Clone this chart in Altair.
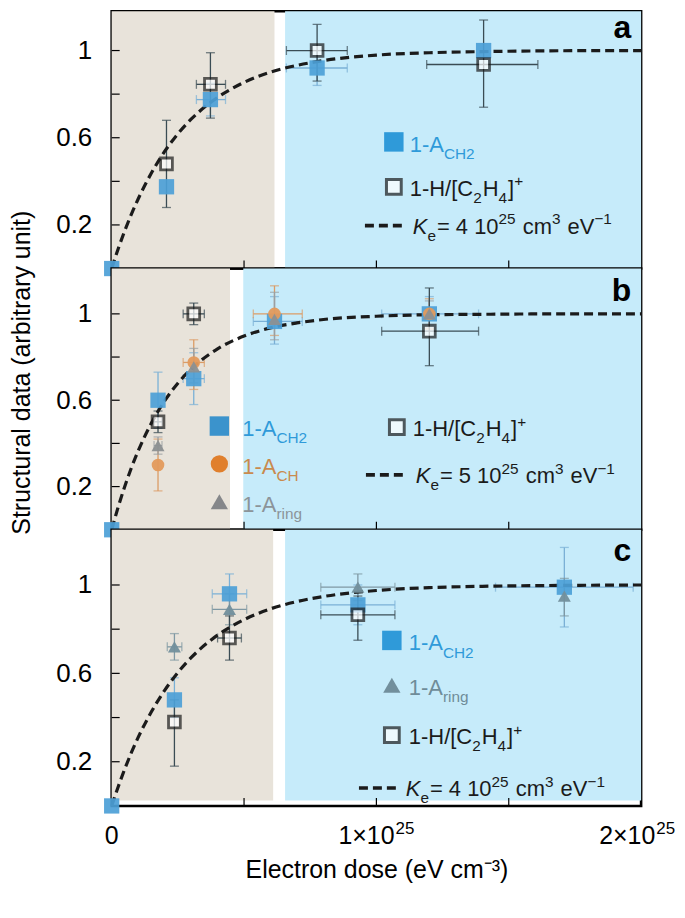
import altair as alt
import pandas as pd
import numpy as np

FONT = "Liberation Sans"

# ---------------- data (x in units of 1e25 eV cm^-3) ----------------
X_TICKS = [0.5, 1.0, 1.5]
Y_TICKS = [0.2, 0.4, 0.6, 0.8, 1.0]
Y_LABELS = [0.2, 0.6, 1.0]
X_LABEL_VALUES = [0, 1, 2]
X_LABEL_BASE = ["0", "1×10", "2×10"]
X_LABEL_EXP = ["", "25", "25"]
X_TITLE = "Electron dose (eV cm⁻³)"
Y_TITLE = "Structural data (arbitrary unit)"

# shaded dose regions [start, end]
A_BEIGE = [0.0, 0.615]; A_BLUE = [0.655, 2.0]
B_BEIGE = [0.0, 0.447]; B_BLUE = [0.497, 2.0]
C_BEIGE = [0.0, 0.61];  C_BLUE = [0.655, 2.0]

# fitted curves
CURVE_X = [0, 0.025, 0.05, 0.075, 0.1, 0.15, 0.2, 0.25, 0.3, 0.4, 0.5, 0.6, 0.7, 0.8, 1.0, 1.2, 1.4, 1.7, 2.0]
CURVE_A = [0, 0.092, 0.175, 0.251, 0.319, 0.438, 0.537, 0.618, 0.685, 0.785, 0.854, 0.901, 0.932, 0.954, 0.979, 0.990, 0.995, 0.999, 1.0]
CURVE_B = [0, 0.107, 0.203, 0.289, 0.365, 0.494, 0.597, 0.679, 0.744, 0.838, 0.897, 0.935, 0.958, 0.974, 0.989, 0.996, 0.998, 1.0, 1.0]
CURVE_C = [0, 0.088, 0.169, 0.243, 0.310, 0.426, 0.523, 0.604, 0.671, 0.773, 0.843, 0.892, 0.925, 0.948, 0.975, 0.988, 0.994, 0.998, 1.0]

N = None
# panel a
A_CH2_X = [0, 0.207, 0.373, 0.776, 1.405]
A_CH2_Y = [0, 0.375, 0.775, 0.92, 1.0]
A_CH2_YLO = [N, N, 0.70, 0.84, N]
A_CH2_YHI = [N, N, 0.85, 1.0, N]
A_CH2_XLO = [N, N, 0.32, 0.66, N]
A_CH2_XHI = [N, N, 0.43, 0.89, N]
A_H_X = [0.207, 0.373, 0.776, 1.405]
A_H_Y = [0.48, 0.845, 1.0, 0.936]
A_H_YLO = [0.28, 0.69, 0.86, 0.74]
A_H_YHI = [0.68, 0.99, 1.12, 1.14]
A_H_XLO = [N, 0.32, 0.66, 1.19]
A_H_XHI = [N, 0.43, 0.89, 1.61]

# panel b
B_CH2_X = [0, 0.175, 0.31, 0.615, 1.2]
B_CH2_Y = [0, 0.60, 0.70, 0.965, 1.0]
B_CH2_YLO = [N, 0.47, 0.58, 0.86, 0.92]
B_CH2_YHI = [N, 0.73, 0.82, 1.08, 1.08]
B_CH2_XLO = [N, N, 0.27, 0.535, 1.02]
B_CH2_XHI = [N, N, 0.35, 0.72, 1.386]
B_CH_X = [0.175, 0.31, 0.615, 1.2]
B_CH_Y = [0.30, 0.775, 1.0, 1.0]
B_CH_YLO = [0.18, 0.65, 0.90, 0.93]
B_CH_YHI = [0.42, 0.88, 1.13, 1.07]
B_CH_XLO = [N, 0.27, 0.535, N]
B_CH_XHI = [N, 0.35, 0.72, N]
B_RING_X = [0.175, 0.31, 0.615, 1.2]
B_RING_Y = [0.39, 0.755, 0.975, 1.0]
B_RING_YLO = [0.35, 0.68, 0.88, 0.94]
B_RING_YHI = [0.43, 0.84, 1.10, 1.06]
B_RING_XLO = [0.16, N, N, N]
B_RING_XHI = [0.19, N, N, N]
B_H_X = [0.175, 0.31, 1.2]
B_H_Y = [0.50, 1.0, 0.92]
B_H_YLO = [0.45, 0.95, 0.76]
B_H_YHI = [0.55, 1.05, 1.12]
B_H_XLO = [0.16, 0.27, 1.02]
B_H_XHI = [0.19, 0.35, 1.386]

# panel c
C_CH2_X = [0, 0.237, 0.445, 0.93, 1.71]
C_CH2_Y = [0, 0.48, 0.96, 0.91, 0.99]
C_CH2_YLO = [N, 0.40, 0.87, 0.82, 0.81]
C_CH2_YHI = [N, 0.58, 1.05, 1.0, 1.17]
C_CH2_XLO = [N, N, 0.38, 0.79, 1.45]
C_CH2_XHI = [N, N, 0.51, 1.07, 1.97]
C_RING_X = [0.237, 0.445, 0.93, 1.71]
C_RING_Y = [0.72, 0.89, 0.99, 0.95]
C_RING_YLO = [0.66, 0.82, 0.93, 0.86]
C_RING_YHI = [0.78, 0.96, 1.05, 1.03]
C_RING_XLO = [0.21, 0.38, 0.79, N]
C_RING_XHI = [0.265, 0.51, 1.07, N]
C_H_X = [0.237, 0.445, 0.93]
C_H_Y = [0.38, 0.76, 0.865]
C_H_YLO = [0.18, 0.66, 0.75]
C_H_YHI = [0.48, 0.86, 0.95]
C_H_XLO = [N, 0.40, 0.79]
C_H_XHI = [N, 0.49, 1.07]

# legend texts
LBL_CH2 = [("1-A", "n"), ("CH2", "sub")]
LBL_CH = [("1-A", "n"), ("CH", "sub")]
LBL_RING = [("1-A", "n"), ("ring", "sub")]
LBL_H = [("1-H/[C", "n"), ("2", "sub"), ("H", "n"), ("4", "sub"), ("]", "n"), ("+", "sup")]
def LBL_K(k):
    return [("K", "i"), ("e", "sub"), ("= %s 10" % k, "n"), ("25", "sup"),
            (" cm", "n"), ("3", "sup"), (" eV", "n"), ("−1", "sup")]

# ---------------- styling ----------------
W = 531
H_A, H_B, H_C = 258, 262, 277
YMAX_A, YMAX_B, YMAX_C = 1.18, 1.21, 1.25
BEIGE = "#E8E3DA"
LBLUE = "#C6EBFA"
C_CH2 = "#4C9FD7"
C_CH2_LEG = "#2F9AD9"
C_CH = "#E39A5C"
C_CH_LEG = "#E07F2C"
C_RING_B = "#8C9092"
C_RING_C = "#728F9C"
DARK = "#1B1B1B"
LEG_SIZE = 22

ONE = pd.DataFrame({"k": [0]})

CW = {'-': .333, 'A': .667, 'C': .722, 'H': .722, '/': .278, '[': .278, ']': .278,
      '+': .584, 'K': .667, 'e': .556, '=': .584, ' ': .278, 'c': .5, 'm': .833,
      'V': .667, '−': .584, 'r': .333, 'i': .222, 'n': .556, 'g': .556, '×': .584}


def tw(s, fs):
    return sum(CW.get(ch, 0.556) for ch in s) * fs


def rich(parts, x0, yc, color, size=LEG_SIZE):
    base = yc + 0.36 * size
    layers = []
    x = x0
    for txt, kind in parts:
        fs = size; dy = 0; style = "normal"
        if kind == "sub":
            fs = size * 0.7; dy = 0.33 * size
        elif kind == "sup":
            fs = size * 0.7; dy = -0.42 * size
        elif kind == "i":
            style = "italic"
        # SVG collapses leading spaces: move the pen instead
        while txt.startswith(" "):
            x += tw(" ", fs)
            txt = txt[1:]
        layers.append(alt.Chart(ONE).mark_text(
            text=txt, align="left", baseline="alphabetic", font=FONT,
            fontSize=fs, fontStyle=style, color=color
        ).encode(x=alt.value(x), y=alt.value(base + dy)))
        x += tw(txt, fs) + (1 if kind in ("sub", "sup") else 0)
    return layers


def sdf(xs, ys, ylo=None, yhi=None, xlo=None, xhi=None):
    n = len(xs)
    f = lambda v: [np.nan if a is None else a for a in (v if v is not None else [None] * n)]
    return pd.DataFrame({"x": xs, "y": ys, "ylo": f(ylo), "yhi": f(yhi),
                         "xlo": f(xlo), "xhi": f(xhi)})


def panel(H, ymax, beige, blue, bg_ymin, curve_y, series, legend, letter, letter_y,
          bottom=False, ytitle=False):
    xs = alt.Scale(domain=[0, 2], nice=False, zero=False)
    ys = alt.Scale(domain=[0, ymax], nice=False, zero=False)
    if bottom:
        xax = alt.Axis(labels=False, ticks=False, domain=False, grid=False,
                       title=X_TITLE, titleFont=FONT, titleFontSize=25,
                       titleFontWeight="normal", titleColor="black", titlePadding=52)
    else:
        xax = None
    yargs = dict(values=Y_LABELS, format="~g", ticks=False, tickSize=0, domain=False,
                 grid=False, labelFont=FONT, labelFontSize=26, labelPadding=20,
                 labelColor="black")
    if ytitle:
        yax = alt.Axis(title=Y_TITLE, titleFont=FONT, titleFontSize=25,
                       titleFontWeight="normal", titleColor="black",
                       titlePadding=21, titleY=104, **yargs)
    else:
        yax = alt.Axis(**yargs)

    def xe(f):
        return alt.X(f + ":Q", scale=xs, axis=xax)

    def ye(f):
        if ytitle:
            return alt.Y(f + ":Q", scale=ys, axis=yax)
        return alt.Y(f + ":Q", scale=ys, axis=yax, title=None)

    layers = []
    bg = pd.DataFrame({"x": [beige[0], blue[0]], "x2": [beige[1], blue[1]],
                       "y": [bg_ymin, bg_ymin], "y2": [ymax, ymax], "r": ["beige", "blue"]})
    layers.append(alt.Chart(bg).mark_rect().encode(
        x=xe("x"), x2="x2", y=ye("y"), y2="y2",
        color=alt.Color("r:N", scale=alt.Scale(domain=["beige", "blue"], range=[BEIGE, LBLUE]),
                        legend=None)))

    # error bars
    ecol = {"CH2": "#7AB0D6", "CH": "#DB9C66", "ring": "#9A9FA2", "ringc": "#7F98A3", "H": "#3A4C54"}
    for name, d in series:
        c = ecol[name]
        v = d.dropna(subset=["ylo"])
        if len(v):
            layers.append(alt.Chart(v).mark_rule(color=c, strokeWidth=1.3).encode(
                x=xe("x"), y=ye("ylo"), y2="yhi"))
            caps = pd.concat([v[["x", "ylo"]].rename(columns={"ylo": "yv"}),
                              v[["x", "yhi"]].rename(columns={"yhi": "yv"})])
            layers.append(alt.Chart(caps).mark_tick(orient="horizontal", size=9, thickness=1.3,
                                                    color=c).encode(x=xe("x"), y=ye("yv")))
        h = d.dropna(subset=["xlo"])
        if len(h):
            layers.append(alt.Chart(h).mark_rule(color=c, strokeWidth=1.3).encode(
                x=xe("xlo"), x2="xhi", y=ye("y")))
            caps = pd.concat([h[["xlo", "y"]].rename(columns={"xlo": "xv"}),
                              h[["xhi", "y"]].rename(columns={"xhi": "xv"})])
            layers.append(alt.Chart(caps).mark_tick(orient="vertical", size=9, thickness=1.3,
                                                    color=c).encode(x=xe("xv"), y=ye("y")))

    # curve
    cdf = pd.DataFrame({"x": CURVE_X, "y": curve_y})
    layers.append(alt.Chart(cdf).mark_line(strokeDash=[9, 5], strokeWidth=3.2, color=DARK,
                                           interpolate="monotone").encode(x=xe("x"), y=ye("y")))

    # markers
    for name, d in series:
        if name == "CH2":
            m = alt.Chart(d).mark_square(size=235, color=C_CH2, opacity=0.92)
        elif name == "CH":
            m = alt.Chart(d).mark_circle(size=160, color=C_CH, opacity=0.95)
        elif name == "ring":
            m = alt.Chart(d).mark_point(shape="triangle-up", filled=True, size=170,
                                        color=C_RING_B, opacity=0.95)
        elif name == "ringc":
            m = alt.Chart(d).mark_point(shape="triangle-up", filled=True, size=170,
                                        color=C_RING_C, opacity=0.95)
        else:
            m = alt.Chart(d).mark_square(size=140, filled=True, fill="white", stroke=DARK,
                                         strokeWidth=2.8)
        layers.append(m.encode(x=xe("x"), y=ye("y")))

    # inner ticks
    layers.append(alt.Chart(pd.DataFrame({"y": Y_TICKS})).mark_rule(color="black", strokeWidth=1.2)
                  .encode(y=ye("y"), x=alt.value(0), x2=alt.value(8)))
    layers.append(alt.Chart(pd.DataFrame({"x": X_TICKS})).mark_rule(color="black", strokeWidth=1.2)
                  .encode(x=xe("x"), y=alt.value(H - 8), y2=alt.value(H)))

    # legend
    layers += legend

    # panel letter
    layers.append(alt.Chart(ONE).mark_text(text=letter, align="right", baseline="alphabetic",
                                           font=FONT, fontSize=32, fontWeight="bold",
                                           color="black")
                  .encode(x=alt.value(521), y=alt.value(letter_y)))

    if bottom:
        for v, b, e in zip(X_LABEL_VALUES, X_LABEL_BASE, X_LABEL_EXP):
            ld = pd.DataFrame({"x": [v]})
            if e == "":
                layers.append(alt.Chart(ld).mark_text(text=b, align="center", baseline="alphabetic",
                                                      font=FONT, fontSize=25, color="black")
                              .encode(x=xe("x"), y=alt.value(H + 38)))
            else:
                bw = tw(b, 25); ew = tw(e, 17)
                half = (bw + ew + 1) / 2
                shift = -4 if v == max(X_LABEL_VALUES) else 0
                layers.append(alt.Chart(ld).mark_text(text=b, align="right", baseline="alphabetic",
                                                      font=FONT, fontSize=25, color="black",
                                                      dx=half - ew - 1 + shift)
                              .encode(x=xe("x"), y=alt.value(H + 38)))
                layers.append(alt.Chart(ld).mark_text(text=e, align="left", baseline="alphabetic",
                                                      font=FONT, fontSize=17, color="black",
                                                      dx=half - ew + shift, dy=-10)
                              .encode(x=xe("x"), y=alt.value(H + 38)))

    return alt.layer(*layers).properties(width=W, height=H)


def leg_marker(kind, x, y, color=None):
    if kind == "sq":
        m = alt.Chart(ONE).mark_square(size=380, color=color, opacity=1)
    elif kind == "circle":
        m = alt.Chart(ONE).mark_circle(size=300, color=color, opacity=1)
    elif kind == "tri":
        m = alt.Chart(ONE).mark_point(shape="triangle-up", filled=True, size=300, color=color,
                                      opacity=1)
    else:
        m = alt.Chart(ONE).mark_square(size=220, filled=True, fill="white", stroke=DARK,
                                       strokeWidth=3)
    return m.encode(x=alt.value(x), y=alt.value(y))


def leg_line(x1, x2, y):
    return alt.Chart(ONE).mark_rule(strokeDash=[9, 5], strokeWidth=3.6, color=DARK).encode(
        x=alt.value(x1), x2=alt.value(x2), y=alt.value(y))


# ---------------- panel a ----------------
ser_a = [("CH2", sdf(A_CH2_X, A_CH2_Y, A_CH2_YLO, A_CH2_YHI, A_CH2_XLO, A_CH2_XHI)),
         ("H", sdf(A_H_X, A_H_Y, A_H_YLO, A_H_YHI, A_H_XLO, A_H_XHI))]
leg_a = [leg_marker("sq", 283, 131, C_CH2_LEG), *rich(LBL_CH2, 299, 133, "#2F9AD9"),
         leg_marker("open", 283, 176), *rich(LBL_H, 299, 177, DARK),
         leg_line(254, 292, 215), *rich(LBL_K("4"), 302, 215, DARK)]
pa = panel(H_A, YMAX_A, A_BEIGE, A_BLUE, 0, CURVE_A, ser_a, leg_a, "a", 27)

# ---------------- panel b ----------------
ser_b = [("CH2", sdf(B_CH2_X, B_CH2_Y, B_CH2_YLO, B_CH2_YHI, B_CH2_XLO, B_CH2_XHI)),
         ("CH", sdf(B_CH_X, B_CH_Y, B_CH_YLO, B_CH_YHI, B_CH_XLO, B_CH_XHI)),
         ("ring", sdf(B_RING_X, B_RING_Y, B_RING_YLO, B_RING_YHI, B_RING_XLO, B_RING_XHI)),
         ("H", sdf(B_H_X, B_H_Y, B_H_YLO, B_H_YHI, B_H_XLO, B_H_XHI))]
leg_b = [leg_marker("sq", 108, 158, "#3B93CC"), *rich(LBL_CH2, 131, 160, "#2F9AD9"),
         leg_marker("circle", 108, 196, C_CH_LEG), *rich(LBL_CH, 131, 198, "#C98A4E"),
         leg_marker("tri", 108, 234, "#85878A"), *rich(LBL_RING, 131, 236, "#8C9499"),
         leg_marker("open", 286, 159), *rich(LBL_H, 302, 160, DARK),
         leg_line(255, 293, 207), *rich(LBL_K("5"), 305, 207, DARK)]
pb = panel(H_B, YMAX_B, B_BEIGE, B_BLUE, 0, CURVE_B, ser_b, leg_b, "b", 33, ytitle=True)

# ---------------- panel c ----------------
ser_c = [("CH2", sdf(C_CH2_X, C_CH2_Y, C_CH2_YLO, C_CH2_YHI, C_CH2_XLO, C_CH2_XHI)),
         ("ringc", sdf(C_RING_X, C_RING_Y, C_RING_YLO, C_RING_YHI, C_RING_XLO, C_RING_XHI)),
         ("H", sdf(C_H_X, C_H_Y, C_H_YLO, C_H_YHI, C_H_XLO, C_H_XHI))]
leg_c = [leg_marker("sq", 281, 111, C_CH2_LEG), *rich(LBL_CH2, 298, 113, "#2F9AD9"),
         leg_marker("tri", 281, 156, C_RING_C), *rich(LBL_RING, 298, 158, "#6F8C98"),
         leg_marker("open", 281, 206), *rich(LBL_H, 298, 207, DARK),
         leg_line(248, 287, 259), *rich(LBL_K("4"), 295, 259, DARK)]
pc = panel(H_C, YMAX_C, C_BEIGE, C_BLUE, 0.025, CURVE_C, ser_c, leg_c, "c", 31, bottom=True)

chart = alt.vconcat(pa, pb, pc, spacing=0, bounds="flush").properties(
    padding={"left": 0, "top": 0, "right": 0, "bottom": 0}
).configure_view(stroke="black", strokeWidth=2.6)

chart.save("out.html", embed_options={"renderer": "svg", "actions": False})
